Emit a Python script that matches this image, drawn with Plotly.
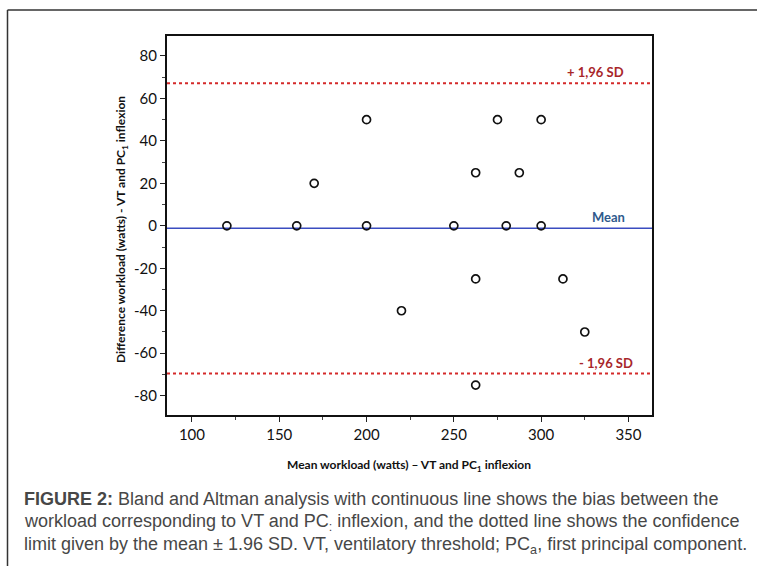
import plotly.graph_objects as go

# Data
mean_workload = [120, 160, 170, 200, 200, 220, 250, 262.5, 262.5, 262.5, 275, 280, 287.5, 300, 300, 312.5, 325]
diff_workload = [0, 0, 20, 50, 0, -40, 0, 25, -25, -75, 50, 0, 25, 50, 0, -25, -50]
bias = -1.2
upper_loa = 67.2
lower_loa = -69.5
x_ticks = [100, 150, 200, 250, 300, 350]
y_ticks = [-80, -60, -40, -20, 0, 20, 40, 60, 80]
y_tick_labels = ["-80", "-60", "-40", "-20", "0", "20", "40", "60", "80"]
x_range = [85.7, 363.5]
y_range = [-89.1, 89.4]

W, H = 757, 566
ML, MR, MT, MB = 167, 105, 36, 151
PW = W - ML - MR
PH = H - MT - MB

def px(xp):
    return (xp - ML) / PW

def py(yp):
    return (H - MB - yp) / PH

fig = go.Figure()

fig.add_trace(go.Scatter(
    x=x_range, y=[upper_loa, upper_loa], mode="lines",
    line=dict(color="#d42a2a", width=2, dash="dot"), hoverinfo="skip", showlegend=False))
fig.add_trace(go.Scatter(
    x=x_range, y=[lower_loa, lower_loa], mode="lines",
    line=dict(color="#d42a2a", width=2, dash="dot"), hoverinfo="skip", showlegend=False))
fig.add_trace(go.Scatter(
    x=x_range, y=[bias, bias], mode="lines",
    line=dict(color="#3a4cc0", width=1.5), hoverinfo="skip", showlegend=False))
fig.add_trace(go.Scatter(
    x=mean_workload, y=diff_workload, mode="markers",
    marker=dict(symbol="circle-open", size=8, color="#111111", line=dict(width=1.7, color="#111111")),
    showlegend=False))

tick_font = dict(family="Lato, Open Sans, sans-serif", size=15, color="#111111")
title_font = dict(family="Lato, sans-serif", size=12, color="#111111", weight="bold")

fig.update_xaxes(
    range=x_range, tickvals=x_ticks, ticks="outside", ticklen=5, tickwidth=1.2, tickcolor="#222",
    showline=True, linewidth=2.2, linecolor="#111", mirror=True, showgrid=False, zeroline=False,
    tickfont=tick_font,
    minor=dict(tickvals=[125, 175, 225, 275, 325], ticks="outside", ticklen=3, tickcolor="#444", tickwidth=1),
)
fig.update_yaxes(
    range=y_range, tickvals=y_ticks, ticktext=y_tick_labels, ticks="outside", ticklen=5, tickwidth=1.2,
    tickcolor="#222",
    showline=True, linewidth=2.2, linecolor="#111", mirror=True, showgrid=False, zeroline=False,
    tickfont=tick_font,
    minor=dict(tickvals=[-70, -50, -30, -10, 10, 30, 50, 70], ticks="outside", ticklen=3, tickcolor="#444", tickwidth=1),
)

ann = []
lab_font = dict(family="Lato, sans-serif", size=13, weight="bold")
ann.append(dict(x=348.5, y=72.5, xref="x", yref="y", text="+ 1,96 SD", showarrow=False,
                xanchor="right", yanchor="middle", font=dict(color="#a8262a", **lab_font)))
ann.append(dict(x=349, y=4.2, xref="x", yref="y", text="Mean", showarrow=False,
                xanchor="right", yanchor="middle", font=dict(color="#2f5a8c", **lab_font)))
ann.append(dict(x=353.5, y=-64.5, xref="x", yref="y", text="- 1,96 SD", showarrow=False,
                xanchor="right", yanchor="middle", font=dict(color="#a8262a", **lab_font)))

# axis titles
ann.append(dict(x=px(409), y=py(465), xref="paper", yref="paper",
                text="Mean workload (watts) – VT and PC<sub>1</sub> inflexion", showarrow=False,
                xanchor="center", yanchor="middle", font=title_font))
ann.append(dict(x=px(121), y=py(230), xref="paper", yref="paper", textangle=-90,
                text="Difference workload (watts) - VT and PC<sub>1</sub> inflexion", showarrow=False,
                xanchor="center", yanchor="middle", font=title_font))

cap_font = dict(family="Liberation Sans, Arial, sans-serif", size=18, color="#474747")
cap_lines = [
    "<b>FIGURE 2:</b> Bland and Altman analysis with continuous line shows the bias between the",
    "workload corresponding to VT and PC<sub>:</sub> inflexion, and the dotted line shows the confidence",
    "limit given by the mean ± 1.96 SD. VT, ventilatory threshold; PC<sub>a</sub>, first principal component.",
]
cap_y = [499, 522, 545]
for t, yy in zip(cap_lines, cap_y):
    ann.append(dict(x=px(22), y=py(yy), xref="paper", yref="paper", text=t, showarrow=False,
                    xanchor="left", yanchor="middle", font=cap_font))

shapes = [
    dict(type="line", xref="paper", yref="paper", x0=px(7.5), x1=px(W + 5), y0=py(10), y1=py(10),
         line=dict(color="#333333", width=1.5)),
    dict(type="line", xref="paper", yref="paper", x0=px(7.5), x1=px(7.5), y0=py(10), y1=py(H + 5),
         line=dict(color="#333333", width=1.5)),
]

fig.update_layout(
    width=W, height=H, margin=dict(l=ML, r=MR, t=MT, b=MB),
    paper_bgcolor="white", plot_bgcolor="white",
    annotations=ann, shapes=shapes, showlegend=False,
)

fig.write_html("out.html", config={"displayModeBar": False},
               post_script="document.body.style.margin='0';document.body.style.overflow='hidden';")
